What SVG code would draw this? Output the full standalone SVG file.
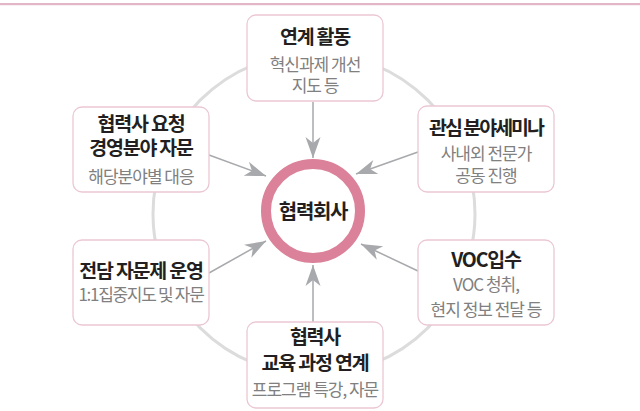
<svg xmlns="http://www.w3.org/2000/svg" width="640" height="411" viewBox="0 0 640 411">
<style>
.box{fill:#fff;stroke:#ebc7d3;stroke-width:1.3}
.t{font-family:"Noto Sans CJK KR","Noto Sans",sans-serif;font-weight:700;font-size:19.5px;fill:#231f20;text-anchor:middle;letter-spacing:-1.2px}
.s{font-family:"Noto Sans CJK KR","Noto Sans",sans-serif;font-weight:400;font-size:17px;fill:#808080;text-anchor:middle;letter-spacing:-1px}
.c{stroke:#a7a9ac;stroke-width:1.5;fill:none;marker-end:url(#ah)}
</style>
<defs>
<marker id="ah" markerUnits="userSpaceOnUse" markerWidth="24" markerHeight="18" viewBox="-22 -9 24 18" refX="0" refY="0" orient="auto">
<path d="M0,0 L-21,-7.5 L-15,0 L-21,7.5 Z" fill="#a7a9ac"/>
</marker>
</defs>
<rect x="0" y="3" width="640" height="2.2" fill="#e2b6c7"/>
<circle cx="314" cy="214" r="161" fill="none" stroke="#dcdcdc" stroke-width="3"/>
<g id="connectors">
<line class="c" x1="313" y1="102" x2="313" y2="158"/>
<line class="c" x1="209" y1="155" x2="266" y2="176"/>
<line class="c" x1="418" y1="152" x2="356" y2="174"/>
<line class="c" x1="209" y1="273" x2="266" y2="241"/>
<line class="c" x1="418" y1="271" x2="361" y2="244"/>
<line class="c" x1="313" y1="322" x2="313" y2="265"/>
</g>
<g id="center">
<circle cx="313" cy="211" r="47" fill="#fff" stroke="#db8199" stroke-width="10"/>
<text class="t" x="313" y="219" style="font-size:20px;letter-spacing:-1.3px">협력회사</text>
</g>
<g id="n-top">
<rect class="box" x="247" y="15" width="136" height="86" rx="9"/>
<text class="t" x="315" y="44">연계 활동</text>
<text class="s" x="315" y="71">혁신과제 개선</text>
<text class="s" x="315" y="92">지도 등</text>
</g>
<g id="n-left-upper">
<rect class="box" x="73" y="107" width="136" height="85" rx="9"/>
<text class="t" x="141" y="131">협력사 요청</text>
<text class="t" x="141" y="155">경영분야 자문</text>
<text class="s" x="141" y="183">해당분야별 대응</text>
</g>
<g id="n-right-upper">
<rect class="box" x="418" y="106" width="136" height="86" rx="9"/>
<text class="t" x="486" y="135" style="letter-spacing:-2px">관심 분야세미나</text>
<text class="s" x="486" y="160">사내외 전문가</text>
<text class="s" x="486" y="182">공동 진행</text>
</g>
<g id="n-left-lower">
<rect class="box" x="73" y="240" width="136" height="85" rx="9"/>
<text class="t" x="141" y="278">전담 자문제 운영</text>
<text class="s" x="141" y="301" style="letter-spacing:-1.3px">1:1집중지도 및 자문</text>
</g>
<g id="n-right-lower">
<rect class="box" x="418" y="240" width="136" height="85" rx="9"/>
<text class="t" x="486" y="267">VOC입수</text>
<text class="s" x="486" y="291">VOC 청취,</text>
<text class="s" x="486" y="316">현지 정보 전달 등</text>
</g>
<g id="n-bottom">
<rect class="box" x="247" y="322" width="136" height="86" rx="9"/>
<text class="t" x="315" y="344">협력사</text>
<text class="t" x="315" y="370">교육 과정 연계</text>
<text class="s" x="315" y="396">프로그램 특강, 자문</text>
</g>
</svg>
